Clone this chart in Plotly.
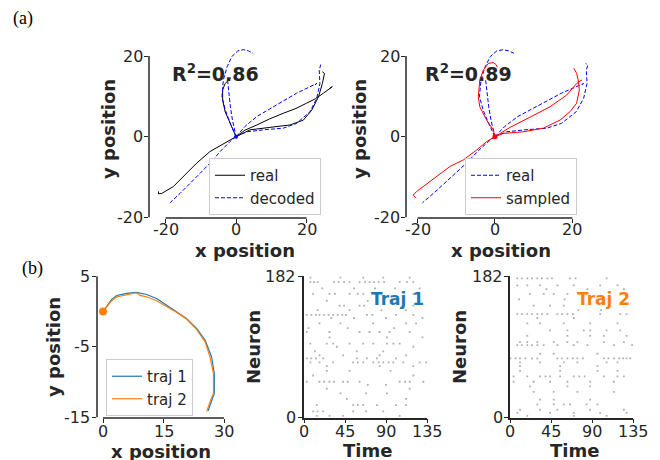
import plotly.graph_objects as go

# ---------------- data ----------------
# panel (a): trajectories, segments separated by None
real_x = [0, -3.6, -7.4, -11.2, -14.9, -17.8, -21.1, -22.0, -22.0, None,
          0, -1.7, -3.1, -3.8, -3.8, -3.1, -1.9, -1.5, None,
          0, 2.5, 5.9, 9.5, 13.4, 17.0, 20.0, 22.5, 24.8, 27.3, 26.6, None,
          0, 4.0, 9.6, 15.3, 19.1, 21.5, 23.4, 24.5, 25.1, 24.5]
real_y = [0, -1.7, -3.7, -6.6, -9.9, -12.4, -14.1, -14.2, -13.6, None,
          0, 3.3, 6.2, 9.1, 11.6, 13.2, 14.2, 14.6, None,
          0, 1.6, 2.9, 4.4, 5.8, 7.0, 8.3, 9.4, 10.8, 12.4, 12.0, None,
          0, 1.7, 2.3, 2.9, 4.1, 6.6, 9.9, 13.2, 15.7, 16.1]

decoded_x = [0, -1.7, -4.5, -7.4, -10.2, -13.0, -15.9, -18.7, None,
             0, -1.5, -3.0, -4.0, -3.6, -2.5, -1.2, 0.5, 2.1, 3.5, 4.9, None,
             -2.4, -2.0, -1.6, -1.0, 0, None,
             0, 2.5, 5.9, 11.5, 17.2, 22.9, 22.4, None,
             0, 3.0, 7.8, 13.4, 17.2, 21.0, 22.9, 23.8, 23.6, 24.0, 23.4]
decoded_y = [0, -1.2, -3.7, -6.6, -9.1, -11.6, -14.1, -16.4, None,
             0, 3.0, 6.5, 9.9, 14.1, 17.4, 19.9, 21.3, 21.6, 21.3, 20.7, None,
             14.0, 10.5, 7.4, 4.0, 0, None,
             0, 2.5, 5.0, 7.9, 10.8, 13.2, 12.8, None,
             0, 1.2, 1.7, 2.1, 3.3, 6.2, 9.5, 13.2, 16.5, 17.8, 18.2]

sampled_x = [0, -2.15, -4.7, -8.2, -11.6, -15.1, -17.6, -20.2, -21.1, -20.4, None,
             0, -0.4, -2.15, -3.9, -4.3, -3.9, -3.0, -1.7, -0.4, 0.4, 0.6, None,
             0, 3.9, 9.0, 14.2, 18.5, 21.1, 22.5, None,
             0, 2.15, 7.3, 12.5, 16.8, 19.4, 21.1, 21.8, 21.5, 21.1, 20.4]
sampled_y = [0, -1.24, -3.3, -5.8, -7.4, -9.9, -11.6, -13.6, -14.5, -15.3, None,
             0, 1.65, 4.1, 7.4, 9.9, 14.1, 16.5, 18.2, 18.4, 17.8, 17.2, None,
             0, 2.3, 4.8, 7.4, 10.3, 13.2, 14.1, None,
             0, 0.8, 1.2, 2.1, 4.1, 6.2, 8.3, 11.6, 14.1, 15.7, 17.0]

r2_values = ["0.86", "0.89"]

# panel (b): two trajectories
traj1_x = [0, 0.9, 2.15, 3.4, 5.9, 8.3, 9.2, 10.8, 13.3, 15.8, 18.3, 20.7, 23.2, 25.3, 26.9, 27.6, 27.6, 26.9, 26.4, 26.1]
traj1_y = [0, 0.69, 1.73, 2.29, 2.58, 2.72, 2.58, 2.43, 1.87, 0.92, -0.02, -0.97, -2.4, -4.04, -6.4, -8.8, -11.6, -12.55, -13.5, -14.07]
traj2_x = [0, 0.9, 2.15, 3.4, 5.9, 8.3, 9.2, 10.8, 13.3, 15.8, 18.3, 20.7, 23.2, 25.3, 26.5, 27.4, 27.4, 26.7, 26.2, 25.7]
traj2_y = [0, 0.59, 1.54, 2.1, 2.43, 2.67, 2.29, 2.1, 1.54, 0.69, -0.12, -1.06, -2.53, -4.28, -6.4, -8.8, -11.6, -12.55, -13.5, -14.2]

# rasters: neuron index per row and spike times in that row
raster1_neurons = [180, 174, 166, 159, 150, 144, 138, 132, 128, 121, 115, 110, 103, 95, 91, 85, 80, 76, 71, 66,
                   60, 54, 46, 42, 37, 31, 24, 16, 8, 2]
raster1_times = [
    [7, 40, 65, 87, 116],
    [7, 11, 15, 33, 38, 44, 50, 61, 67, 72, 77, 82, 88, 105, 113, 120],
    [20, 55, 78, 100, 127],
    [10, 28, 34, 50, 59, 65, 120],
    [25, 70, 95],
    [39, 44, 61, 66, 120],
    [15, 50, 85, 112],
    [3, 8, 13, 17, 22, 27, 32, 37, 42, 46, 69, 75, 101, 120],
    [30, 55, 90, 130],
    [17, 40, 76, 112, 123],
    [5, 48, 99],
    [3, 28, 61, 72, 83, 94, 116],
    [28, 91, 130],
    [7, 25, 32, 50, 65, 76, 91, 98, 105],
    [36, 120],
    [12, 58, 87],
    [17, 43, 83, 112],
    [3, 8, 13, 21, 58, 69, 80, 101],
    [7, 17, 32, 54, 59, 65, 76, 82, 87, 93, 98, 109, 127, 134],
    [25, 83, 120],
    [25, 50, 95],
    [10, 120],
    [3, 17, 22, 28, 33, 43, 48, 61, 105, 111, 116, 131],
    [70, 90],
    [25, 116],
    [40, 68, 91],
    [47, 112],
    [14, 54, 59, 65, 80, 101, 112],
    [10, 15, 21, 54, 68, 87],
    [14, 28, 43, 105],
]
raster2_neurons = [179, 170, 165, 159, 152, 144, 138, 133, 128, 121, 112, 105, 97, 93, 82, 76, 71, 66, 60, 53,
                   46, 40, 33, 23, 17, 10, 6, 2]
raster2_times = [
    [8, 13, 19, 24, 30, 35, 41, 46, 66, 72, 106],
    [8, 19, 33, 52, 70, 99, 118],
    [40, 85, 125],
    [22, 37, 48, 63],
    [10, 60, 110],
    [26, 44, 59],
    [75, 100],
    [8, 13, 19, 24, 30, 35, 41, 52, 57, 63, 69, 99, 121, 128],
    [30, 70],
    [19, 33, 59, 88, 118],
    [44, 63, 81, 88, 106, 121],
    [19, 63, 88, 103, 128],
    [11, 19, 30, 48, 63, 74, 103, 125],
    [8, 13, 19, 24, 30, 37, 52, 70, 85, 114, 134],
    [33, 48, 96],
    [0.5, 6, 11, 17, 24, 30, 52, 57, 63, 69, 74, 80, 103, 108, 114, 120, 124, 128, 132],
    [11, 33, 59, 74, 106, 118],
    [11, 55, 96],
    [11, 55, 96, 118],
    [4, 19, 33, 39, 44, 55, 70, 76, 82, 103, 118, 125],
    [4, 26, 44, 63, 88, 114],
    [22, 63, 88],
    [26, 48, 74, 114],
    [33, 48, 88],
    [30, 48, 59, 66, 84, 96],
    [11, 33, 52, 88, 125],
    [8, 44, 70, 99, 128],
    [19, 70, 106],
]

ticks_a = [-20, 0, 20]
ticks_a_text = ["-20", "0", "20"]
ticks_b_x = [0, 15, 30]
ticks_b_x_text = ["0", "15", "30"]
ticks_b_y = [-15, -5, 5]
ticks_b_y_text = ["-15", "-5", "5"]
ticks_time = [0, 45, 90, 135]
ticks_time_text = ["0", "45", "90", "135"]
ticks_neuron = [0, 182]
ticks_neuron_text = ["0", "182"]

# ---------------- figure ----------------
W, H = 660, 460
INK = "#262626"
BLUE_T, ORANGE_T = "#1f77b4", "#ff7f0e"


def flat(neurons, times):
    xs, ys = [], []
    for n, ts in zip(neurons, times):
        for t in ts:
            xs.append(t)
            ys.append(n)
    return xs, ys


fig = go.Figure()
dash_short = "4px,2px"

# panel a1
fig.add_trace(go.Scatter(x=real_x, y=real_y, mode="lines", name="real",
                         line=dict(color="black", width=1), xaxis="x", yaxis="y", legend="legend"))
fig.add_trace(go.Scatter(x=decoded_x, y=decoded_y, mode="lines", name="decoded",
                         line=dict(color="#0000ff", width=1, dash=dash_short), xaxis="x", yaxis="y", legend="legend"))
# panel a2
fig.add_trace(go.Scatter(x=decoded_x, y=decoded_y, mode="lines", name="real",
                         line=dict(color="#0000ff", width=1, dash=dash_short), xaxis="x2", yaxis="y2", legend="legend2"))
fig.add_trace(go.Scatter(x=sampled_x, y=sampled_y, mode="lines", name="sampled",
                         line=dict(color="#ff0000", width=1), xaxis="x2", yaxis="y2", legend="legend2"))
fig.add_trace(go.Scatter(x=[sampled_x[0]], y=[sampled_y[0]], mode="markers", showlegend=False,
                         marker=dict(color="#ff0000", size=5), xaxis="x2", yaxis="y2"))
fig.add_trace(go.Scatter(x=[decoded_x[0]], y=[decoded_y[0]], mode="markers", showlegend=False,
                         marker=dict(color="#0000ff", size=4), xaxis="x", yaxis="y"))
# panel b1
fig.add_trace(go.Scatter(x=traj1_x, y=traj1_y, mode="lines", name="traj 1",
                         line=dict(color=BLUE_T, width=1.2), xaxis="x3", yaxis="y3", legend="legend3"))
fig.add_trace(go.Scatter(x=traj2_x, y=traj2_y, mode="lines", name="traj 2",
                         line=dict(color=ORANGE_T, width=1.2), xaxis="x3", yaxis="y3", legend="legend3"))
fig.add_trace(go.Scatter(x=[traj2_x[0]], y=[traj2_y[0]], mode="markers", showlegend=False,
                         marker=dict(color=ORANGE_T, size=8), xaxis="x3", yaxis="y3"))
# rasters
r1x, r1y = flat(raster1_neurons, raster1_times)
r2x, r2y = flat(raster2_neurons, raster2_times)
spike_marker = dict(symbol="square", size=1.8, color="#b0b0b0", line=dict(width=0))
fig.add_trace(go.Scatter(x=r1x, y=r1y, mode="markers", showlegend=False, marker=spike_marker,
                         xaxis="x4", yaxis="y4"))
fig.add_trace(go.Scatter(x=r2x, y=r2y, mode="markers", showlegend=False, marker=spike_marker,
                         xaxis="x5", yaxis="y5"))


def dx(a, b):
    return [a / W, b / W]


def dy(top, bottom):
    return [1 - bottom / H, 1 - top / H]


common = dict(showgrid=False, zeroline=False, ticks="outside", ticklen=4, tickwidth=1.3, automargin=False,
              tickcolor=INK, showticklabels=False)

layout = dict(
    width=W, height=H, margin=dict(l=0, r=0, t=0, b=0, pad=0, autoexpand=False),
    plot_bgcolor="white", paper_bgcolor="white",
    font=dict(family="DejaVu Sans", size=16, color=INK),
    xaxis=dict(domain=dx(149, 340), range=[-24.7, 29.5], anchor="y", tickvals=ticks_a, **common),
    yaxis=dict(domain=dy(40, 218), range=[-20.2, 24], anchor="x", tickvals=ticks_a, **common),
    xaxis2=dict(domain=dx(406, 596), range=[-22.97, 26.1], anchor="y2", tickvals=ticks_a, **common),
    yaxis2=dict(domain=dy(40, 218), range=[-20.2, 24], anchor="x2", tickvals=ticks_a, **common),
    xaxis3=dict(domain=dx(97, 224), range=[-1.49, 30.0], anchor="y3", tickvals=ticks_b_x, **common),
    yaxis3=dict(domain=dy(276, 418), range=[-15.1, 5.05], anchor="x3", tickvals=ticks_b_y, **common),
    xaxis4=dict(domain=dx(304, 427), range=[0, 135], anchor="y4", tickvals=ticks_time, showline=True,
                linecolor=INK, linewidth=1.5, **common),
    yaxis4=dict(domain=dy(276, 417.5), range=[0, 182], anchor="x4", tickvals=ticks_neuron, showline=True,
                linecolor=INK, linewidth=1.5, **common),
    xaxis5=dict(domain=dx(510, 633), range=[0, 135], anchor="y5", tickvals=ticks_time, showline=True,
                linecolor=INK, linewidth=1.5, **common),
    yaxis5=dict(domain=dy(276, 417.5), range=[0, 182], anchor="x5", tickvals=ticks_neuron, showline=True,
                linecolor=INK, linewidth=1.5, **common),
)

leg_common = dict(bgcolor="white", bordercolor="#cccccc", borderwidth=1, font=dict(size=15, color=INK),
                  xanchor="left", yanchor="top", tracegroupgap=0)
layout["legend"] = dict(x=209 / W, y=1 - 158 / H, **leg_common)
layout["legend2"] = dict(x=465 / W, y=1 - 158 / H, **leg_common)
layout["legend3"] = dict(x=106 / W, y=1 - 359 / H, **leg_common)

spine = dict(color=INK, width=1.5)
shapes = []
for xr, yr, xl, yl in [("x", "y", (-20, 20), (-20, 20)), ("x2", "y2", (-20, 20), (-20, 20)),
                       ("x3", "y3", (0, 30), (-15, 5))]:
    shapes.append(dict(type="line", xref=xr, yref=yr + " domain", x0=xl[0], x1=xl[1], y0=0, y1=0, line=spine))
    shapes.append(dict(type="line", xref=xr + " domain", yref=yr, x0=0, x1=0, y0=yl[0], y1=yl[1], line=spine))
layout["shapes"] = shapes

bold18 = dict(size=18, color=INK, family="DejaVu Sans", weight="bold")
tickfont = dict(size=16, color=INK, family="DejaVu Sans")
ann = []


def label(text, x, y, angle=0, font=bold18):
    ann.append(dict(text=text, x=x / W, y=1 - y / H, xref="paper", yref="paper", showarrow=False,
                    xanchor="center", yanchor="middle", textangle=angle, font=font))


def xticklabels(xref, vals, texts, ypix):
    for v, t in zip(vals, texts):
        ann.append(dict(text=t, x=v, xref=xref, y=1 - ypix / H, yref="paper", showarrow=False,
                        xanchor="center", yanchor="middle", font=tickfont))


def yticklabels(yref, vals, texts, xpix):
    for v, t in zip(vals, texts):
        ann.append(dict(text=t, x=xpix / W, xref="paper", y=v, yref=yref, showarrow=False,
                        xanchor="right", yanchor="middle", font=tickfont, xshift=0))


xticklabels("x", ticks_a, ticks_a_text, 229)
yticklabels("y", ticks_a, ticks_a_text, 145)
xticklabels("x2", ticks_a, ticks_a_text, 229)
yticklabels("y2", ticks_a, ticks_a_text, 402)
xticklabels("x3", ticks_b_x, ticks_b_x_text, 431)
yticklabels("y3", ticks_b_y, ticks_b_y_text, 92)
xticklabels("x4", ticks_time, ticks_time_text, 431)
yticklabels("y4", ticks_neuron, ticks_neuron_text, 298)
xticklabels("x5", ticks_time, ticks_time_text, 431)
yticklabels("y5", ticks_neuron, ticks_neuron_text, 505)

label("x position", 245, 250)
label("y position", 108, 129, -90)
label("x position", 501, 250)
label("y position", 359, 129, -90)
label("x position", 161, 451)
label("y position", 53, 347, -90)
label("Neuron", 253, 347, -90)
label("Time", 367, 450)
label("Neuron", 459, 347, -90)
label("Time", 574, 450)
label("R<sup>2</sup>=" + r2_values[0], 215, 73, font=dict(size=19, color=INK, weight="bold"))
label("R<sup>2</sup>=" + r2_values[1], 468, 73, font=dict(size=19, color=INK, weight="bold"))
label("Traj 1", 397, 299, font=dict(size=17, color=BLUE_T, weight="bold"))
label("Traj 2", 603, 299, font=dict(size=17, color=ORANGE_T, weight="bold"))
label("(a)", 23, 18, font=dict(size=18, color="black", family="Liberation Serif"))
label("(b)", 32, 268, font=dict(size=18, color="black", family="Liberation Serif"))
layout["annotations"] = ann

fig.update_layout(**layout)
fig.write_html("out.html", config={"displayModeBar": False},
               post_script="document.body.style.margin='0';document.body.style.overflow='hidden';")
